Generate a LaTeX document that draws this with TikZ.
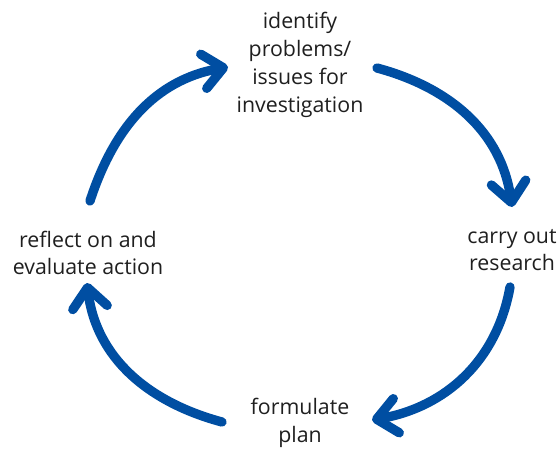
\documentclass[tikz,border=0pt]{standalone}
\usepackage{fontspec}
\setmainfont{Open Sans}
\usetikzlibrary{arrows.meta}
\definecolor{cycleblue}{RGB}{0,78,162}
\begin{document}
\begin{tikzpicture}[x=0.75pt, y=0.75pt,
  stage/.style={align=center, inner sep=0pt, font=\fontsize{16}{20.8}\selectfont, text=black!88},
  cyclearrow/.style={line width=7pt, cycleblue, line cap=round, -{Straight Barb[length=15pt, width=26pt, round]}}]
\useasboundingbox (0,0) rectangle (560,451);

% Stages of the cycle
\node[stage] (identify) at (300,386) {identify\\problems/\\issues for\\investigation};
\node[stage] (research) at (512,201) {carry out\\research};
\node[stage] (plan) at (300,28) {formulate\\plan};
\node[stage] (reflect) at (88,198) {reflect on and\\evaluate action};

% Arc end points
\coordinate (s1) at (90,250);
\coordinate (t1) at (228,384);
\coordinate (s2) at (377,383);
\coordinate (t2) at (512,244);
\coordinate (s3) at (510,164);
\coordinate (t3) at (372,31);
\coordinate (s4) at (222,29);
\coordinate (t4) at (87,168);

% Arrows round the cycle
\draw[cyclearrow] (s1) to[out=72, in=190] (t1);
\draw[cyclearrow] (s2) to[out=-15, in=98] (t2);
\draw[cyclearrow] (s3) to[out=-100, in=10] (t3);
\draw[cyclearrow] (s4) to[out=165, in=-83] (t4);

\end{tikzpicture}
\end{document}
